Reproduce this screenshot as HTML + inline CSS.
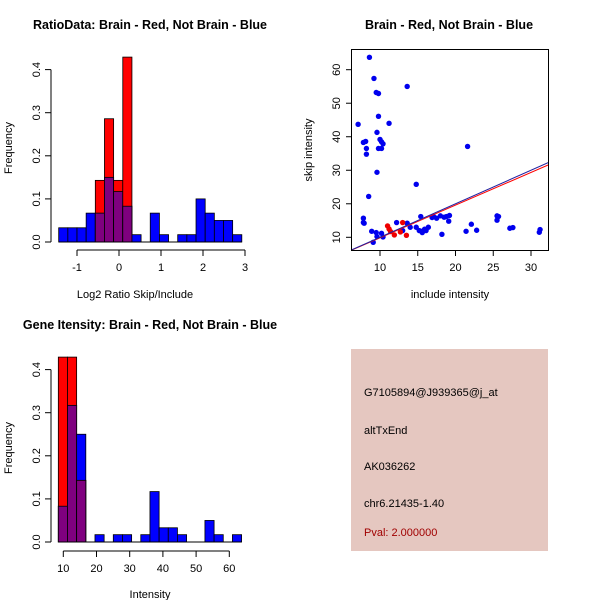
<!DOCTYPE html>
<html><head><meta charset="utf-8"><style>
body{margin:0;background:#fff;}
svg{display:block;font-family:"Liberation Sans",sans-serif;}
</style></head><body>
<svg id="chart" width="600" height="600" viewBox="0 0 600 600">
<rect x="0" y="0" width="600" height="600" fill="#fff"/>
<text x="150" y="29" font-size="12.5" font-weight="bold" text-anchor="middle">RatioData: Brain - Red, Not Brain - Blue</text>
<text x="135" y="298" font-size="11" text-anchor="middle">Log2 Ratio Skip/Include</text>
<text transform="translate(12,148) rotate(-90)" font-size="11" text-anchor="middle">Frequency</text>
<text x="449" y="29" font-size="12.5" font-weight="bold" text-anchor="middle">Brain - Red, Not Brain - Blue</text>
<text x="450" y="298" font-size="11" text-anchor="middle">include intensity</text>
<text transform="translate(312,150) rotate(-90)" font-size="11" text-anchor="middle">skip intensity</text>
<text x="150" y="329" font-size="12.5" font-weight="bold" text-anchor="middle">Gene Itensity: Brain - Red, Not Brain - Blue</text>
<text x="150" y="598" font-size="11" text-anchor="middle">Intensity</text>
<text transform="translate(12,448) rotate(-90)" font-size="11" text-anchor="middle">Frequency</text>
<g>
<rect x="351" y="349" width="197" height="202" fill="#e5c7c0"/>
<text x="364" y="396" font-size="11">G7105894@J939365@j_at</text>
<text x="364" y="434" font-size="11">altTxEnd</text>
<text x="364" y="470" font-size="11">AK036262</text>
<text x="364" y="507" font-size="11">chr6.21435-1.40</text>
<text x="364" y="536" font-size="11" fill="#a00000">Pval: 2.000000</text>
</g>
</svg>
<script>
// Ratio histogram data
const ratioBinStart = -1.436, ratioBinWidth = 0.218;
const ratioBlue = [0.033,0.033,0.033,0.067,0.067,0.15,0.117,0.083,0.017,0,0.067,0.017,0,0.017,0.017,0.1,0.067,0.05,0.05,0.017];
const ratioRed  = [0,0,0,0,0.143,0.286,0.143,0.429,0,0,0,0,0,0,0,0,0,0,0,0];
const ratioXTicks = [-1,0,1,2,3];
const freqTicks = [0.0,0.1,0.2,0.3,0.4];
// Intensity histogram data
const intBinStart = 8.5, intBinWidth = 2.76;
const intBlue = [0.083,0.317,0.25,0,0.017,0,0.017,0.017,0,0.017,0.117,0.033,0.033,0.017,0,0,0.05,0.017,0,0.017];
const intRed  = [0.429,0.429,0.143,0,0,0,0,0,0,0,0,0,0,0,0,0,0,0,0,0];
const intXTicks = [10,20,30,40,50,60];
// Scatter data
const blueX = [8.6,9.2,9.5,9.8,13.6,7.1,9.8,11.2,9.6,10.0,10.2,10.4,7.8,8.1,8.2,9.8,10.2,8.2,9.6,21.6,14.8,8.5,7.8,7.9,7.8,12.2,13.6,14.0,8.9,9.5,9.6,10.2,10.4,9.1,15.4,14.8,15.2,15.6,16.1,16.4,15.9,17.1,17.5,18.0,18.8,19.2,19.1,18.2,21.4,22.1,22.8,25.5,25.7,25.5,27.2,27.6,31.1,31.2,13.0,15.5,16.9,18.5];
const blueY = [63.7,57.4,53.2,52.9,55.0,43.7,46.1,44.0,41.3,39.2,38.5,37.9,38.3,38.6,36.5,36.5,36.5,34.8,29.4,37.1,25.8,22.2,15.7,14.2,14.4,14.4,14.2,13.0,11.8,11.4,10.2,11.2,10.1,8.5,16.2,13.0,12.0,11.4,12.0,13.0,12.4,16.2,15.7,16.4,16.2,16.5,14.8,10.9,11.8,13.9,12.1,16.4,16.2,15.1,12.7,12.9,11.5,12.3,12.0,11.8,15.9,16.0];
const redX = [11.0,11.2,11.4,11.9,12.7,13.0,13.5];
const redY = [13.4,12.5,11.7,10.7,11.6,14.4,10.6];
const scXTicks = [10,15,20,25,30];
const scYTicks = [10,20,30,40,50,60];
const blueFit = [0.0, 1.0];   // intercept, slope
const redFit = [0.1, 0.975];

const svg = document.getElementById('chart');
const NS = 'http://www.w3.org/2000/svg';
function mk(tag, attrs, parent){const e=document.createElementNS(NS,tag);for(const k in attrs)e.setAttribute(k,attrs[k]);(parent||svg).appendChild(e);return e;}

function hist(prefix, binStart, binW, blue, red, xScale, yScale, xTicks, axisY, xLabelY, yAxisX){
  const g = mk('g',{});
  
  
  for(let i=0;i<blue.length;i++){
    const x0=xScale(binStart+i*binW), x1=xScale(binStart+(i+1)*binW);
    const b=blue[i], r=red[i];
    const draw=(v,col,nm)=>{ if(v<=0) return;
      const el=mk('rect',{x:x0,y:yScale(v),width:x1-x0,height:yScale(0)-yScale(v),fill:col,stroke:'#000','stroke-width':0.8},g);
      
      
    };
    draw(b,'#0000ff','bar-blue-'+i);
    draw(r,'#ff0000','bar-red-'+i);
    if(b>0&&r>0) draw(Math.min(b,r),'#7f007f','bar-overlap-'+i);
  }
  const ya=mk('line',{x1:yAxisX,x2:yAxisX,y1:yScale(freqTicks[0]),y2:yScale(freqTicks[freqTicks.length-1]),stroke:'#000'});
  
  
  freqTicks.forEach(t=>{
    mk('line',{x1:yAxisX-6,x2:yAxisX,y1:yScale(t),y2:yScale(t),stroke:'#000'});
    const tx=mk('text',{transform:`translate(${yAxisX-11},${yScale(t)}) rotate(-90)`,'font-size':11,'text-anchor':'middle'});
    tx.textContent=t.toFixed(1);
    
    
  });
  mk('line',{x1:xScale(binStart),x2:xScale(binStart+blue.length*binW),y1:yScale(0),y2:yScale(0),stroke:'#000'});
  const xa=mk('line',{x1:xScale(xTicks[0]),x2:xScale(xTicks[xTicks.length-1]),y1:axisY,y2:axisY,stroke:'#000'});
  
  
  xTicks.forEach(t=>{
    mk('line',{x1:xScale(t),x2:xScale(t),y1:axisY,y2:axisY+6,stroke:'#000'});
    const tx=mk('text',{x:xScale(t),y:xLabelY,'font-size':11,'text-anchor':'middle'});
    tx.textContent=String(t);
    
    
  });
}
hist('ratio', ratioBinStart, ratioBinWidth, ratioBlue, ratioRed,
  v=>77+(v+1)*42, v=>242-v*431, ratioXTicks, 250, 271, 51);
hist('intensity', intBinStart, intBinWidth, intBlue, intRed,
  v=>63.3+(v-10)*3.32, v=>542-v*431, intXTicks, 551, 572, 51);

const sx=v=>380+(v-10)*7.55, sy=v=>237.3-(v-10)*3.352;
const sg=mk('g',{});


const box=mk('rect',{x:351.5,y:49.5,width:197,height:201,fill:'none',stroke:'#000'},sg);


const clip=mk('clipPath',{id:'scClip'});
mk('rect',{x:352,y:50,width:196,height:200},clip);
scXTicks.forEach(t=>{
  mk('line',{x1:sx(t),x2:sx(t),y1:250.5,y2:256,stroke:'#000'},sg);
  const tx=mk('text',{x:sx(t),y:271,'font-size':11,'text-anchor':'middle'},sg);
  tx.textContent=String(t);
  
  
});
scYTicks.forEach(t=>{
  mk('line',{x1:346,x2:351.5,y1:sy(t),y2:sy(t),stroke:'#000'},sg);
  const tx=mk('text',{transform:`translate(340,${sy(t)}) rotate(-90)`,'font-size':11,'text-anchor':'middle'},sg);
  tx.textContent=String(t);
  
  
});
const pts=mk('g',{'clip-path':'url(#scClip)'},sg);
blueX.forEach((x,i)=>{
  const c=mk('circle',{cx:sx(x),cy:sy(blueY[i]),r:2.7,fill:'#0000ee'},pts);
  
  
});
redX.forEach((x,i)=>{
  const c=mk('circle',{cx:sx(x),cy:sy(redY[i]),r:2.7,fill:'#ee0000'},pts);
  
  
});
[[redFit,'#ff0000','fit-line-red'],[blueFit,'#2020a0','fit-line-blue']].forEach(([f,col,nm])=>{
  const xa=5, xb=33;
  const l=mk('line',{x1:sx(xa),y1:sy(f[0]+f[1]*xa),x2:sx(xb),y2:sy(f[0]+f[1]*xb),stroke:col,'stroke-width':1},pts);
  
  
});
</script>
</body></html>
